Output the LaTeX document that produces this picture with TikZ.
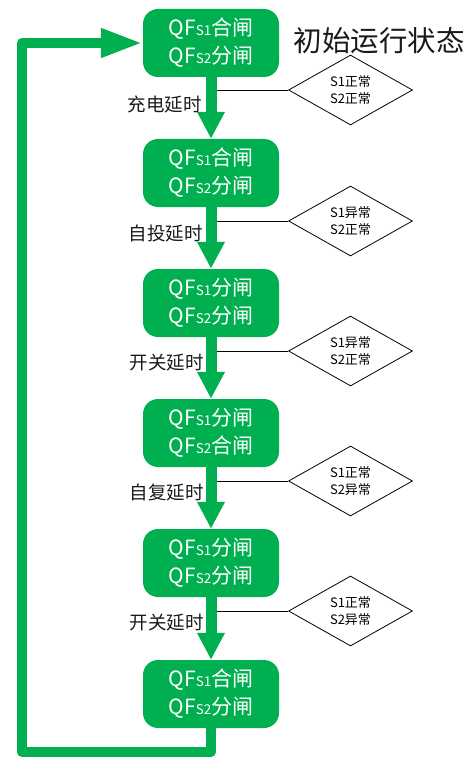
\documentclass[tikz,border=0pt]{standalone}
\usepackage{fontspec}
\setmainfont{Noto Sans CJK SC}
\usetikzlibrary{arrows.meta,shapes.geometric}
\definecolor{okgreen}{HTML}{00B050}
\definecolor{txtdark}{HTML}{1A1A1A}
\newcommand{\qfs}[1]{QF{\fontsize{13.5}{13.5}\selectfont S#1}}
\begin{document}
\begin{tikzpicture}[x=1pt,y=-1pt,
  statebox/.style={fill=okgreen, draw=none, rounded corners=15pt, minimum width=136pt,
    minimum height=68pt, inner sep=0pt, text=white, align=center,
    font=\fontsize{21}{28}\selectfont},
  cond/.style={diamond, draw=black, line width=0.8pt, minimum width=124pt, minimum height=50pt,
    inner sep=0pt, align=center, font=\fontsize{13}{17}\selectfont, text=black},
  delaylabel/.style={anchor=east, inner sep=0pt, text=txtdark, font=\fontsize{18.5}{18.5}\selectfont},
  flow/.style={okgreen, line width=11pt, -{Triangle[width=26pt,length=27pt]}},
  loopline/.style={okgreen, line width=10pt, line join=round, -{Triangle[width=27pt,length=42pt]}},
  thin/.style={black, line width=0.9pt}
]
\useasboundingbox (0,0) rectangle (473,762);

% state boxes
\node[statebox] (b1) at (211,43)  {\qfs{1}合闸\\\qfs{2}分闸};
\node[statebox] (b2) at (211,173) {\qfs{1}合闸\\\qfs{2}分闸};
\node[statebox] (b3) at (211,303) {\qfs{1}分闸\\\qfs{2}分闸};
\node[statebox] (b4) at (211,433) {\qfs{1}分闸\\\qfs{2}合闸};
\node[statebox] (b5) at (211,563) {\qfs{1}分闸\\\qfs{2}分闸};
\node[statebox] (b6) at (211,694) {\qfs{1}合闸\\\qfs{2}分闸};

% title
\node[inner sep=0pt, text=txtdark, font=\fontsize{28.5}{28.5}\selectfont] (title) at (379,41) {初始运行状态};

% condition diamonds
\node[cond] (d1) at (350.5,90)  {S1正常\\S2正常};
\node[cond] (d2) at (350.5,221) {S1异常\\S2正常};
\node[cond] (d3) at (350.5,351) {S1异常\\S2正常};
\node[cond] (d4) at (350.5,481) {S1正常\\S2异常};
\node[cond] (d5) at (350.5,611) {S1正常\\S2异常};

\coordinate (c1) at (211,90);
\coordinate (c2) at (211,221);
\coordinate (c3) at (211,351);
\coordinate (c4) at (211,481);
\coordinate (c5) at (211,611);
\draw[thin] (c1) -- (d1.west);
\draw[thin] (c2) -- (d2.west);
\draw[thin] (c3) -- (d3.west);
\draw[thin] (c4) -- (d4.west);
\draw[thin] (c5) -- (d5.west);

% flow arrows
\draw[flow] (b1.south) -- (b2.north);
\draw[flow] (b2.south) -- (b3.north);
\draw[flow] (b3.south) -- (b4.north);
\draw[flow] (b4.south) -- (b5.north);
\draw[flow] (b5.south) -- (b6.north);

% delay labels
\node[delaylabel] (l1) at (202,104) {充电延时};
\node[delaylabel] (l2) at (203,234) {自投延时};
\node[delaylabel] (l3) at (204,363) {开关延时};
\node[delaylabel] (l4) at (204,493) {自复延时};
\node[delaylabel] (l5) at (204,623) {开关延时};

% return loop
\coordinate (r1) at (211,752);
\coordinate (r2) at (22,752);
\coordinate (r3) at (22,43);
\draw[loopline] (b6.south) -- (r1) -- (r2) -- (r3) -- (b1.west);
\end{tikzpicture}
\end{document}
